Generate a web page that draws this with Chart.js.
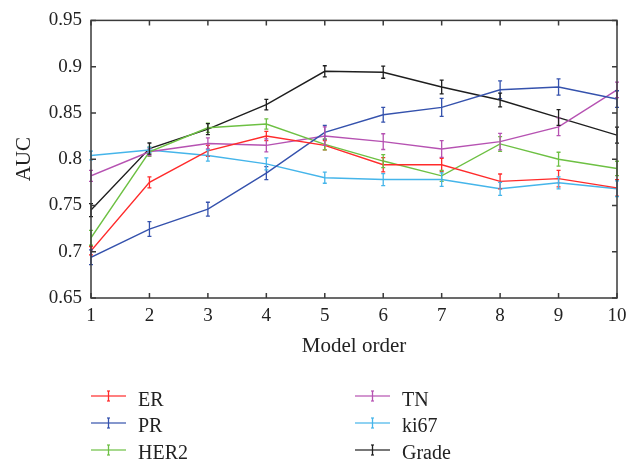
<!DOCTYPE html>
<html><head><meta charset="utf-8">
<script src="https://cdn.jsdelivr.net/npm/chart.js@4.4.1/dist/chart.umd.min.js"></script>
<style>
html,body{margin:0;padding:0;background:#fff;}
#wrap{position:relative;width:644px;height:466px;overflow:hidden;}
#c{position:absolute;left:0;top:0;width:644px;height:466px;}
.li{position:absolute;height:24px;display:flex;align-items:center;font-family:"Liberation Serif","Times New Roman",serif;font-size:20px;color:#222;white-space:nowrap;}
.li svg{margin-right:12px;flex:none;}
</style></head><body>
<div id="wrap"><canvas id="c" width="644" height="466"></canvas><div id="legend"></div></div>
<script>
// ---- data ----
const modelOrder = [1,2,3,4,5,6,7,8,9,10];
const yTicks = [0.65,0.7,0.75,0.8,0.85,0.9,0.95];
const seriesNames = ['ER','PR','HER2','TN','ki67','Grade'];
const erAUC    = [0.701,0.775,0.809,0.825,0.815,0.794,0.794,0.776,0.779,0.769];
const erErr    = [0.0045,0.006,0.006,0.005,0.005,0.0077,0.007,0.008,0.009,0.009];
const prAUC    = [0.694,0.7245,0.746,0.785,0.829,0.848,0.856,0.875,0.878,0.865];
const prErr    = [0.008,0.008,0.0075,0.007,0.0075,0.008,0.0098,0.0096,0.0087,0.009];
const her2AUC  = [0.715,0.808,0.834,0.838,0.816,0.798,0.782,0.8165,0.800,0.790];
const her2Err  = [0.008,0.005,0.005,0.0056,0.006,0.007,0.006,0.008,0.0075,0.0078];
const tnAUC    = [0.782,0.808,0.817,0.815,0.825,0.819,0.811,0.819,0.835,0.875];
const tnErr    = [0.006,0.004,0.006,0.007,0.01,0.0085,0.009,0.009,0.0096,0.0084];
const ki67AUC  = [0.804,0.810,0.804,0.795,0.780,0.778,0.778,0.768,0.7745,0.768];
const ki67Err  = [0.0047,0.003,0.006,0.0065,0.006,0.0065,0.0073,0.007,0.0065,0.0085];
const gradeAUC = [0.745,0.8115,0.8325,0.859,0.895,0.894,0.878,0.864,0.845,0.826];
const gradeErr = [0.007,0.006,0.006,0.0056,0.006,0.0065,0.0075,0.0075,0.0085,0.0087];

// ---- styles ----
const seriesValues = [erAUC, prAUC, her2AUC, tnAUC, ki67AUC, gradeAUC];
const seriesErrors = [erErr, prErr, her2Err, tnErr, ki67Err, gradeErr];
const seriesColors = ['#ff2b2b','#3552ad','#6dc043','#b652b2','#45b5ea','#1e1e1e'];
const AXIS = '#3a3a3a';
const FAMILY = '"Liberation Serif","Times New Roman",serif';
const tickFont = {family: FAMILY, size: 19};
const titleFont = {family: FAMILY, size: 21};

const datasets = seriesNames.map((name,k)=>({
  label: name,
  data: modelOrder.map((x,i)=>({x: x, y: seriesValues[k][i]})),
  errors: seriesErrors[k],
  borderColor: seriesColors[k],
  backgroundColor: seriesColors[k],
  borderWidth: 1.4, pointRadius: 0, pointHoverRadius: 0, tension: 0, fill: false
}));

const errorBars = {
  id: 'errorBars',
  afterDatasetsDraw(chart){
    const {ctx, scales:{x, y}} = chart;
    ctx.save();
    chart.data.datasets.forEach(ds=>{
      ctx.strokeStyle = ds.borderColor; ctx.lineWidth = 1.3;
      ds.data.forEach((p,i)=>{
        const e = ds.errors[i];
        const px = x.getPixelForValue(p.x);
        const y1 = y.getPixelForValue(p.y - e), y2 = y.getPixelForValue(p.y + e);
        ctx.beginPath();
        ctx.moveTo(px,y1); ctx.lineTo(px,y2);
        ctx.moveTo(px-2,y1); ctx.lineTo(px+2,y1);
        ctx.moveTo(px-2,y2); ctx.lineTo(px+2,y2);
        ctx.stroke();
      });
    });
    ctx.restore();
  }
};

const frame = {
  id: 'frame',
  afterDraw(chart){
    const {ctx, chartArea:a, scales:{x, y}} = chart;
    ctx.save();
    ctx.strokeStyle = AXIS; ctx.lineWidth = 1.5;
    ctx.strokeRect(a.left, a.top, a.right-a.left, a.bottom-a.top);
    ctx.beginPath();
    x.ticks.forEach(t=>{
      const px = x.getPixelForValue(t.value);
      ctx.moveTo(px, a.bottom); ctx.lineTo(px, a.bottom-5);
      ctx.moveTo(px, a.top); ctx.lineTo(px, a.top+5);
    });
    y.ticks.forEach(t=>{
      const py = y.getPixelForValue(t.value);
      ctx.moveTo(a.left, py); ctx.lineTo(a.left+5, py);
      ctx.moveTo(a.right, py); ctx.lineTo(a.right-5, py);
    });
    ctx.stroke();
    ctx.restore();
  }
};

new Chart(document.getElementById('c'), {
  type: 'line',
  data: { datasets },
  options: {
    responsive: false, animation: false, devicePixelRatio: 1,
    layout: { padding: {top: 11, right: 27, bottom: 102, left: 0} },
    plugins: { legend: {display: false}, tooltip: {enabled: false} },
    scales: {
      x: {
        type: 'linear', min: 1, max: 10,
        afterBuildTicks: s => { s.ticks = modelOrder.map(v=>({value: v})); },
        afterFit: s => { s.height = 66; },
        ticks: { font: tickFont, color: '#222', padding: 7, maxRotation: 0, autoSkip: false,
                 callback: v => String(v) },
        grid: { display: false, drawTicks: false },
        border: { display: false },
        title: { display: true, text: 'Model order', font: titleFont, color: '#222', padding: {top: 0, bottom: 5} }
      },
      y: {
        type: 'linear', min: 0.65, max: 0.95,
        afterBuildTicks: s => { s.ticks = yTicks.map(v=>({value: v})); },
        afterFit: s => { s.width = 91; },
        ticks: { font: tickFont, color: '#222', padding: 9,
                 callback: v => String(Number(Number(v).toFixed(2))) },
        grid: { display: false, drawTicks: false },
        border: { display: false },
        title: { display: true, text: 'AUC', font: titleFont, color: '#222', padding: {top: 12, bottom: 0} }
      }
    }
  },
  plugins: [errorBars, frame]
});

// ---- legend (HTML) ----
const legendCols = [91, 355];
const legendRows = [396, 422.5, 449.5];
const legend = document.getElementById('legend');
seriesNames.forEach((name,k)=>{
  const col = Math.floor(k/3), row = k%3;
  const div = document.createElement('div');
  div.className = 'li';
  div.style.left = legendCols[col] + 'px';
  div.style.top = (legendRows[row] - 9) + 'px';
  const c = seriesColors[k];
  div.innerHTML = '<svg width="35" height="24" viewBox="0 0 35 24">' +
    '<line x1="0" y1="9" x2="35" y2="9" stroke="'+c+'" stroke-width="1.6" stroke-opacity="0.8"/>' +
    '<line x1="17.5" y1="4" x2="17.5" y2="14" stroke="'+c+'" stroke-width="1.3"/>' +
    '<line x1="16" y1="4" x2="19" y2="4" stroke="'+c+'" stroke-width="1.2"/>' +
    '<line x1="16" y1="14" x2="19" y2="14" stroke="'+c+'" stroke-width="1.2"/>' +
    '</svg><span>' + name + '</span>';
  legend.appendChild(div);
});
</script>
</body></html>
